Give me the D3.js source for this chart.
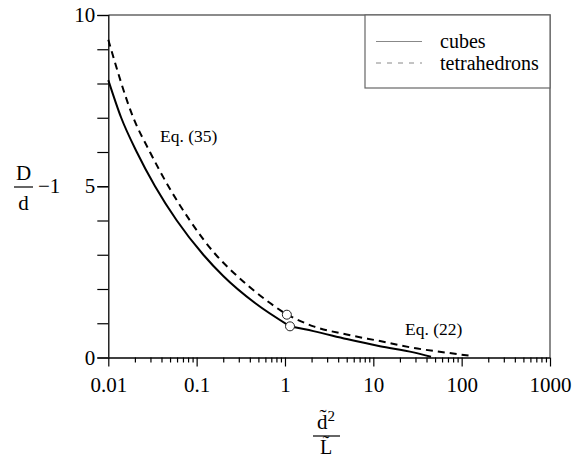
<!DOCTYPE html>
<html>
<head>
<meta charset="utf-8">
<script src="https://cdn.jsdelivr.net/npm/d3@7"></script>
<style>
  body { margin: 0; background: #fff; }
  svg { display: block; }
  svg text { font-family: "Liberation Serif", "Times New Roman", Times, "DejaVu Serif", serif !important; fill: #000; }
</style>
</head>
<body>
<svg id="chart" width="578" height="461"></svg>
<script>
// ---- data ----
const cubesEq35X = [0.01, 0.014, 0.021, 0.0338, 0.0596, 0.119, 0.2, 0.458, 1.14];
const cubesEq35Y = [8.1, 7.0, 6.0, 5.0, 4.0, 3.0, 2.38, 1.59, 0.91];
const cubesEq22X = [1.14, 2.1, 5.0, 11.9, 28.5, 45];
const cubesEq22Y = [0.91, 0.77, 0.54, 0.33, 0.15, 0.02];
const tetraEq35X = [0.01, 0.0192, 0.0296, 0.0479, 0.084, 0.165, 0.24, 0.678, 1.05];
const tetraEq35Y = [9.28, 7.0, 6.0, 5.0, 4.0, 3.0, 2.57, 1.59, 1.25];
const tetraEq22X = [1.05, 2.1, 5.0, 11.9, 28.5, 67.8, 125];
const tetraEq22Y = [1.25, 0.91, 0.67, 0.48, 0.28, 0.14, 0.05];
const junctionX = [1.05, 1.14];
const junctionY = [1.25, 0.91];
const xTickValues = [0.01, 0.1, 1, 10, 100, 1000];
const xTickLabels = ["0.01", "0.1", "1", "10", "100", "1000"];
const yTickValues = [0, 5, 10];
const yTickLabels = ["0", "5", "10"];
const legendLabels = ["cubes", "tetrahedrons"];
const eqLabels = ["Eq. (35)", "Eq. (22)"];

const SERIF = '"Liberation Serif", "Times New Roman", Times, "DejaVu Serif", serif';

// ---- layout ----
const svg = d3.select("#chart");
const L = 108.3, R = 550, T = 15, B = 357.5;
const x = d3.scaleLog().domain([0.01, 1000]).range([L, R]);
const y = d3.scaleLinear().domain([0, 10]).range([B, T]);

// frame: top and right (gray)
svg.append("path")
  .attr("d", `M${L},${T}H${R}V${B}`)
  .attr("fill", "none").attr("stroke", "#666").attr("stroke-width", 1.5);

// x axis minor + major ticks (downward)
const minorX = [];
for (let e = -2; e < 3; e++) for (let m = 2; m <= 9; m++) minorX.push(m * Math.pow(10, e));
const xAxisMinor = d3.axisBottom(x).tickValues(minorX).tickSize(5).tickFormat("");
const gxm = svg.append("g").attr("transform", `translate(0,${B})`).call(xAxisMinor);
gxm.select(".domain").remove();
gxm.selectAll("line").attr("stroke-width", 1.2);
const xAxis = d3.axisBottom(x).tickValues(xTickValues).tickSize(9)
  .tickFormat((d, i) => xTickLabels[i]).tickPadding(11);
const gx = svg.append("g").attr("transform", `translate(0,${B})`).call(xAxis);
gx.attr("font-family", SERIF);
gx.select(".domain").attr("d", `M${L},0.5H${R}`).attr("stroke-width", 1.3);
gx.selectAll("text").attr("font-size", 21).style("font-family", SERIF);
gx.selectAll("line").attr("stroke-width", 1.2);

// y axis ticks (outward, left)
const yAxisMinor = d3.axisLeft(y).tickValues(d3.range(0, 11)).tickSize(11).tickFormat("");
const gym = svg.append("g").attr("transform", `translate(${L},0)`).call(yAxisMinor);
gym.select(".domain").remove();
gym.selectAll("line").attr("stroke-width", 1.2);
const yAxis = d3.axisLeft(y).tickValues(yTickValues).tickSize(11)
  .tickFormat((d, i) => yTickLabels[i]).tickPadding(2);
const gy = svg.append("g").attr("transform", `translate(${L},0)`).call(yAxis);
gy.attr("font-family", SERIF);
gy.select(".domain").attr("d", `M0.5,${T}V${B}`).attr("stroke-width", 1.3);
gy.selectAll("text").attr("font-size", 21).style("font-family", SERIF);
gy.selectAll("line").attr("stroke-width", 1.2);

// curves
const line = d3.line().x(d => x(d[0])).y(d => y(d[1])).curve(d3.curveMonotoneX);
const zip = (a, b) => a.map((v, i) => [v, b[i]]);
const g = svg.append("g");
g.append("path").datum(zip(cubesEq35X, cubesEq35Y)).attr("d", line)
  .attr("fill", "none").attr("stroke", "#000").attr("stroke-width", 2);
g.append("path").datum(zip(cubesEq22X, cubesEq22Y)).attr("d", line)
  .attr("fill", "none").attr("stroke", "#000").attr("stroke-width", 2);
g.append("path").datum(zip(tetraEq35X, tetraEq35Y)).attr("d", line)
  .attr("fill", "none").attr("stroke", "#000").attr("stroke-width", 2)
  .attr("stroke-dasharray", "7,5");
g.append("path").datum(zip(tetraEq22X, tetraEq22Y)).attr("d", line)
  .attr("fill", "none").attr("stroke", "#000").attr("stroke-width", 2)
  .attr("stroke-dasharray", "7,5");

// junction circles
g.selectAll("circle").data(zip(junctionX, junctionY)).join("circle")
  .attr("cx", d => x(d[0])).attr("cy", d => y(d[1])).attr("r", 4.5)
  .attr("fill", "#fff").attr("stroke", "#222").attr("stroke-width", 1);

// equation labels
svg.append("text").attr("x", 160).attr("y", 142).attr("font-size", 17.5).style("font-family", SERIF).text(eqLabels[0]);
svg.append("text").attr("x", 405).attr("y", 335).attr("font-size", 17.5).style("font-family", SERIF).text(eqLabels[1]);

// legend
const lg = svg.append("g");
lg.append("rect").attr("x", 365).attr("y", T).attr("width", R - 365).attr("height", 73)
  .attr("fill", "#fff").attr("stroke", "#666").attr("stroke-width", 1.2);
[0, 1].forEach(i => {
  const yy = 41.5 + i * 21.5;
  lg.append("line").attr("x1", 376).attr("x2", 422).attr("y1", yy).attr("y2", yy)
    .attr("stroke", "#888").attr("stroke-width", 1)
    .attr("stroke-dasharray", i === 1 ? "5,6" : null);
  lg.append("text").attr("x", 440).attr("y", yy + 6.5).attr("font-size", 20).style("font-family", SERIF).text(legendLabels[i]);
});

// y-axis label: D/d − 1
const yl = svg.append("g");
yl.append("text").attr("x", 23.5).attr("y", 180).attr("text-anchor", "middle").attr("font-size", 21).style("font-family", SERIF).text("D");
yl.append("line").attr("x1", 14).attr("x2", 33).attr("y1", 187).attr("y2", 187).attr("stroke", "#000").attr("stroke-width", 1.2);
yl.append("text").attr("x", 23.5).attr("y", 210).attr("text-anchor", "middle").attr("font-size", 21).style("font-family", SERIF).text("d");
yl.append("text").attr("x", 38).attr("y", 193).attr("font-size", 21).style("font-family", SERIF).text("\u22121");

// x-axis label: d̃²/L̃
const xl = svg.append("g");
const xt = xl.append("text").attr("x", 326).attr("y", 429).attr("text-anchor", "middle").attr("font-size", 21).style("font-family", SERIF);
xt.append("tspan").text("d\u0303");
xt.append("tspan").attr("font-size", 15).attr("dy", -8).text("2");
xl.append("line").attr("x1", 313).attr("x2", 340).attr("y1", 436).attr("y2", 436).attr("stroke", "#000").attr("stroke-width", 1.2);
xl.append("text").attr("x", 326).attr("y", 454).attr("text-anchor", "middle").attr("font-size", 20).style("font-family", SERIF).text("L\u0303");
</script>
</body>
</html>
